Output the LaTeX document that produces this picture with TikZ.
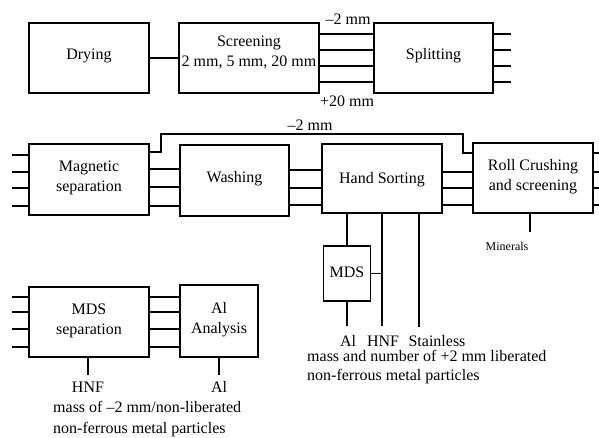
\documentclass[tikz,border=0pt]{standalone}
\usepackage{fontspec}
\setmainfont{Liberation Serif}
\begin{document}
\begin{tikzpicture}[x=1pt,y=-1pt,
  box/.style={draw,line width=1.5pt,inner sep=0pt,minimum width=#1},
  ln/.style={line width=1.5pt},
  txt/.style={font=\fontsize{16}{20}\selectfont,align=center,inner sep=0pt},
  small/.style={font=\fontsize{12}{14}\selectfont,inner sep=0pt}]
\useasboundingbox (0,0) rectangle (599,438);
% row 1
\node[box=120pt,minimum height=70pt] (dry) at (89,58) {};
\node[txt] (dryt) at (89,56) {Drying};
\node[box=140pt,minimum height=70pt] (scr) at (249,58) {};
\node[txt] (scrt) at (249,52) {Screening\\2 mm, 5 mm, 20 mm};
\node[box=119pt,minimum height=70pt] (spl) at (433.5,58) {};
\node[txt] (splt) at (433.5,56) {Splitting};
\draw[ln] (dry.east) -- (dry.east -| scr.west);
\foreach \yy in {34,50,66,82} {
  \draw[ln] (scr.east |- 0,\yy) -- (spl.west |- 0,\yy);
  \draw[ln] (spl.east |- 0,\yy) -- (511,\yy);
}
\node[txt] (m2a) at (348,19) {–2 mm};
\node[txt] (p20) at (347,101) {+20 mm};
% row 2
\node[box=120pt,minimum height=71pt] (mag) at (89,179.5) {};
\node[txt] (magt) at (89,178) {Magnetic\\separation};
\node[box=109pt,minimum height=71pt] (wash) at (234.5,180.5) {};
\node[txt] (washt) at (234.5,179) {Washing};
\node[box=120pt,minimum height=69pt] (hand) at (382,178.5) {};
\node[txt] (handt) at (382,180) {Hand Sorting};
\node[box=120pt,minimum height=70pt] (roll) at (533,178) {};
\node[txt] (rollt) at (533,177) {Roll Crushing\\and screening};
\foreach \yy in {155,172,188,206} {
  \draw[ln] (12,\yy) -- (mag.west |- 0,\yy);
}
\foreach \yy in {169,187,206} {
  \draw[ln] (mag.east |- 0,\yy) -- (wash.west |- 0,\yy);
}
\foreach \yy in {170,188,205} {
  \draw[ln] (wash.east |- 0,\yy) -- (hand.west |- 0,\yy);
}
\foreach \yy in {172,188,205} {
  \draw[ln] (hand.east |- 0,\yy) -- (roll.west |- 0,\yy);
}
\foreach \yy in {153,172,188,205} {
  \draw[ln] (roll.east |- 0,\yy) -- (599,\yy);
}
\draw[ln] (mag.east |- 0,152) -- (161,152) -- (161,134) -- (463,134) -- (463,153) -- (roll.west |- 0,153);
\node[txt] (m2b) at (310,125) {–2 mm};
\coordinate (minE) at (530,232);
\draw[ln] (roll.south -| minE) -- (minE);
\node[small] (minl) at (507,246) {Minerals};
% hand sorting outputs
\node[box=47pt,minimum height=55pt] (mds) at (347,273.5) {};
\node[txt] (mdst) at (347,272) {MDS};
\draw[ln] (hand.south -| mds.north) -- (mds.north);
\coordinate (alE) at (347,326);
\coordinate (hnfE) at (382,326);
\coordinate (stE) at (419,327);
\draw[ln] (mds.south) -- (alE);
\draw[ln] (hand.south -| hnfE) -- (hnfE);
\draw[ln] (hand.south -| stE) -- (stE);
\draw[ln] (mds.east) -- (mds.east -| hnfE);
\node[txt] (all) at (348,341) {Al};
\node[txt] (hnfl) at (383,341) {HNF};
\node[txt] (stl) at (437,341) {Stainless};
\node[txt,align=left,anchor=north west,font=\fontsize{16}{19.5}\selectfont] (massa) at (307,350) {mass and number of +2 mm liberated\\non-ferrous metal particles};
% row 3
\node[box=120pt,minimum height=70pt] (mdss) at (89,322) {};
\node[txt] (mdsst) at (89,321) {MDS\\separation};
\node[box=78pt,minimum height=72pt] (alan) at (219,321) {};
\node[txt] (alant) at (219,320) {Al\\Analysis};
\foreach \yy in {297,312,329,347} {
  \draw[ln] (12,\yy) -- (mdss.west |- 0,\yy);
  \draw[ln] (mdss.east |- 0,\yy) -- (alan.west |- 0,\yy);
}
\coordinate (hnf2E) at (88,375);
\coordinate (al2E) at (219,375);
\draw[ln] (mdss.south -| hnf2E) -- (hnf2E);
\draw[ln] (alan.south) -- (al2E);
\node[txt] (hnf2l) at (88,387) {HNF};
\node[txt] (al2l) at (219,387) {Al};
\node[txt,align=left,anchor=north west,font=\fontsize{16}{21}\selectfont] (massb) at (53,401) {mass of –2 mm/non-liberated\\non-ferrous metal particles};
\end{tikzpicture}
\end{document}
